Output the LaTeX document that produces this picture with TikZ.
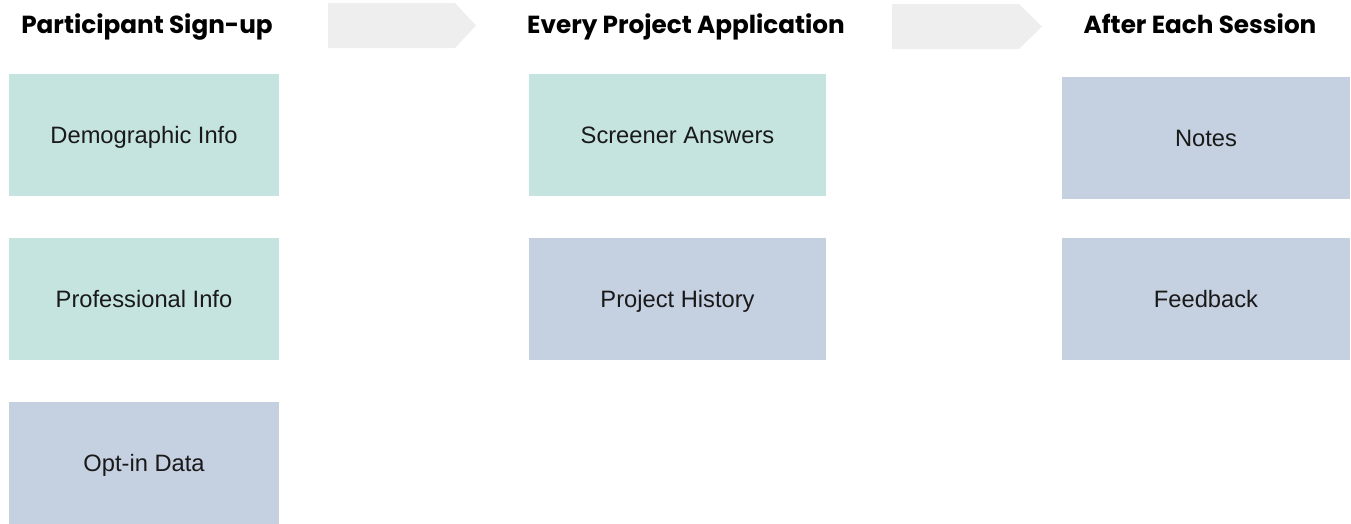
\documentclass[tikz,border=0pt]{standalone}
\usepackage{fontspec}
\setmainfont{Liberation Sans}
\newfontfamily\headfont{Poppins}
\definecolor{mintbox}{HTML}{C5E4DF}
\definecolor{slatebox}{HTML}{C5D0E0}
\definecolor{chevgray}{HTML}{EEEEEE}

\begin{document}
\begin{tikzpicture}[x=1pt, y=-1pt,
  every node/.style={inner sep=0pt, outer sep=0pt},
  head/.style={anchor=base, font=\headfont\bfseries\fontsize{24.7}{28}\selectfont, text=black},
  info/.style={minimum height=122pt, text height=17pt, text depth=0pt,
    font=\fontsize{23.7}{28}\selectfont, text=black!90}]
\useasboundingbox (0,0) rectangle (1351,523);
% column headers
\node[head] (H1) at (147,33.5) {Participant Sign-up};
\node[head] (H2) at (686,33.5) {Every Project Application};
\node[head] (H3) at (1200,33.5) {After Each Session};
% chevrons between headers
\fill[chevgray] (328,3) -- (455,3) -- (476,25.5) -- (455,48) -- (328,48) -- cycle;
\fill[chevgray] (892,4) -- (1019,4) -- (1042,26.5) -- (1019,49) -- (892,49) -- cycle;
% participant sign-up
\node[info, fill=mintbox, minimum width=270pt] (D1) at (144,135) {Demographic Info};
\node[info, fill=mintbox, minimum width=270pt] (D2) at (144,299) {Professional Info};
\node[info, fill=slatebox, minimum width=270pt] (D3) at (144,462.5) {Opt-in Data};
% every project application
\node[info, fill=mintbox, minimum width=297pt] (P1) at (677.5,135) {Screener Answers};
\node[info, fill=slatebox, minimum width=297pt] (P2) at (677.5,299) {Project History};
% after each session
\node[info, fill=slatebox, minimum width=288pt] (S1) at (1206,137.5) {Notes};
\node[info, fill=slatebox, minimum width=288pt] (S2) at (1206,299) {Feedback};
\end{tikzpicture}
\end{document}
